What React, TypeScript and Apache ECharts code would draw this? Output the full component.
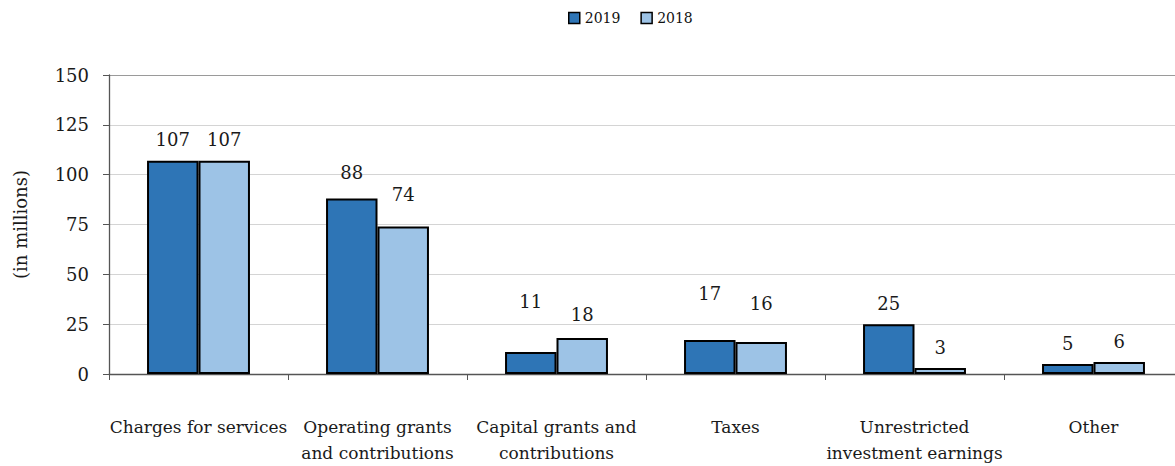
import React, { useEffect, useRef } from "react";
import * as echarts from "echarts";

const categories = [
  "Charges for services",
  "Operating grants\nand contributions",
  "Capital grants and\ncontributions",
  "Taxes",
  "Unrestricted\ninvestment earnings",
  "Other",
];
const values2019 = [107, 88, 11, 17, 25, 5];
const values2018 = [107, 74, 18, 16, 3, 6];
const yTicks = [0, 25, 50, 75, 100, 125, 150];

// extra lift (px) of the value labels, as placed in the reference
const lift2019 = [0, 5, 30, 26, 0, 0];
const lift2018 = [0, 11, 3, 18, 0, 0];

const FONT = "DejaVu Serif";

export default function App() {
  const ref = useRef<HTMLDivElement>(null);
  useEffect(() => {
    document.body.style.margin = "0";
    document.body.style.overflow = "hidden";
    const chart = echarts.init(ref.current!, null, { renderer: "svg" });
    const mk = (vals: number[], lifts: number[]) =>
      vals.map((v, i) => ({
        value: v,
        label: { offset: [0, -lifts[i]] },
      }));
    const labelStyle = {
      show: true,
      position: "top" as const,
      distance: 12,
      fontFamily: FONT,
      fontSize: 18,
      color: "#1a1a1a",
    };
    chart.setOption({
      animation: false,
      textStyle: { fontFamily: FONT },
      legend: {
        left: 563,
        top: 6,
        icon: "rect",
        itemWidth: 11,
        itemHeight: 11,
        itemGap: 20,
        itemTextGap: 3,
        textStyle: { fontFamily: FONT, fontSize: 14, color: "#111" },
        itemStyle: { borderColor: "#000", borderWidth: 1.5 },
        data: ["2019", "2018"],
      },
      grid: { left: 109, right: 7, top: 75, bottom: 91 },
      xAxis: {
        type: "category",
        data: categories,
        axisLine: { lineStyle: { color: "#555", width: 1.3 } },
        axisTick: { show: true, length: 6, lineStyle: { color: "#555" } },
        axisLabel: {
          interval: 0,
          margin: 40,
          fontFamily: FONT,
          fontSize: 17,
          lineHeight: 26,
          color: "#1a1a1a",
        },
      },
      yAxis: {
        type: "value",
        min: yTicks[0],
        max: yTicks[yTicks.length - 1],
        interval: 25,
        name: "(in millions)",
        nameLocation: "middle",
        nameGap: 80,
        nameTextStyle: { fontFamily: FONT, fontSize: 18, color: "#1a1a1a" },
        axisLine: { show: true, lineStyle: { color: "#555", width: 1.3 } },
        axisTick: { show: true, length: 6, lineStyle: { color: "#555" } },
        axisLabel: { margin: 20, fontFamily: FONT, fontSize: 18, color: "#1a1a1a" },
        splitLine: {
          lineStyle: {
            color: ["#d4d4d4", "#d4d4d4", "#d4d4d4", "#d4d4d4", "#d4d4d4", "#d4d4d4", "#9a9a9a"],
            width: 1,
          },
        },
      },
      series: [
        {
          name: "2019",
          type: "bar",
          data: mk(values2019, lift2019),
          barGap: "0%",
          barCategoryGap: "42.5%",
          itemStyle: { color: "#2E75B6", borderColor: "#000", borderWidth: 2 },
          label: labelStyle,
        },
        {
          name: "2018",
          type: "bar",
          data: mk(values2018, lift2018),
          barGap: "0%",
          barCategoryGap: "42.5%",
          itemStyle: { color: "#9DC3E6", borderColor: "#000", borderWidth: 2 },
          label: labelStyle,
        },
      ],
    });
    return () => chart.dispose();
  }, []);
  return <div ref={ref} style={{ width: 1190, height: 466 }} />;
}
